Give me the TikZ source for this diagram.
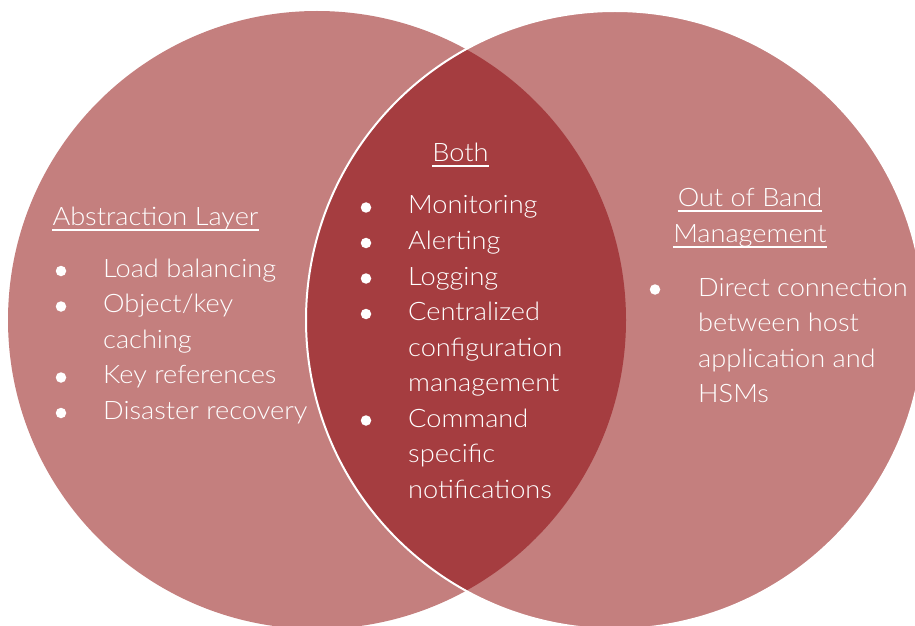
\documentclass[tikz,border=0pt]{standalone}
\usepackage{fontspec}
\IfFontExistsTF{Lato Light}{\setmainfont{Lato Light}[FakeStretch=1.07]}{\setmainfont{Open Sans}}
\definecolor{lightrose}{RGB}{196,127,126}
\definecolor{darkrose}{RGB}{165,61,64}
\begin{document}
\begin{tikzpicture}[x=1bp,y=-1bp,
  txt/.style={text=white,inner sep=0pt,font=\fontsize{25.5}{35}\selectfont},
  item/.style={txt,anchor=base west},
  head/.style={txt,anchor=base},
  bul/.style={circle,fill=white,inner sep=0pt,minimum size=10.5bp},
  uline/.style={white,line width=1.4bp}]
\useasboundingbox (0,0) rectangle (915,626);
% circles
\coordinate (cl) at (317,320);
\coordinate (cr) at (615,320);
\fill[lightrose] (cl) circle (309);
\fill[lightrose] (cr) circle (309);
\begin{scope}
  \clip (cl) circle (309);
  \fill[darkrose] (cr) circle (309);
\end{scope}
\draw[white,line width=2bp] (cr) circle (309);
% headings
\node[head] (ab) at (155.5,226) {Abstraction Layer};
\draw[uline] ([yshift=-4bp]ab.base west) -- ([yshift=-4bp]ab.base east);
\node[head] (both) at (460.5,162) {Both};
\draw[uline] ([yshift=-4bp]both.base west) -- ([yshift=-4bp]both.base east);
\node[head] (oob1) at (750,207) {Out of Band};
\draw[uline] ([yshift=-4bp]oob1.base west) -- ([yshift=-4bp]oob1.base east);
\node[head] (oob2) at (750,243) {Management};
\draw[uline] ([yshift=-4bp]oob2.base west) -- ([yshift=-4bp]oob2.base east);
% left list
\node[bul] (lb1) at (61,271) {};
\node[item] (l1) at (103,277) {Load balancing};
\node[bul] (lb2) at (61,306.5) {};
\node[item] (l2) at (103,312.5) {Object/key};
\node[item] (l3) at (103,348) {caching};
\node[bul] (lb4) at (61,377.5) {};
\node[item] (l4) at (103,383.5) {Key references};
\node[bul] (lb5) at (61,413) {};
\node[item] (l5) at (103,419) {Disaster recovery};
% centre list
\node[bul] (cb1) at (366,207.5) {};
\node[item] (c1) at (408,214) {Monitoring};
\node[bul] (cb2) at (366,243) {};
\node[item] (c2) at (408,249.5) {Alerting};
\node[bul] (cb3) at (366,278.5) {};
\node[item] (c3) at (408,285) {Logging};
\node[bul] (cb4) at (366,314) {};
\node[item] (c4) at (408,320.5) {Centralized};
\node[item] (c5) at (408,356) {configuration};
\node[item] (c6) at (408,391.5) {management};
\node[bul] (cb7) at (366,420.5) {};
\node[item] (c7) at (408,427) {Command};
\node[item] (c8) at (408,462.5) {specific};
\node[item] (c9) at (408,498) {notifications};
% right list
\node[bul] (rb1) at (655,289.5) {};
\node[item] (r1) at (698,296) {Direct connection};
\node[item] (r2) at (698,331.5) {between host};
\node[item] (r3) at (698,367) {application and};
\node[item] (r4) at (698,402.5) {HSMs};
\end{tikzpicture}
\end{document}
